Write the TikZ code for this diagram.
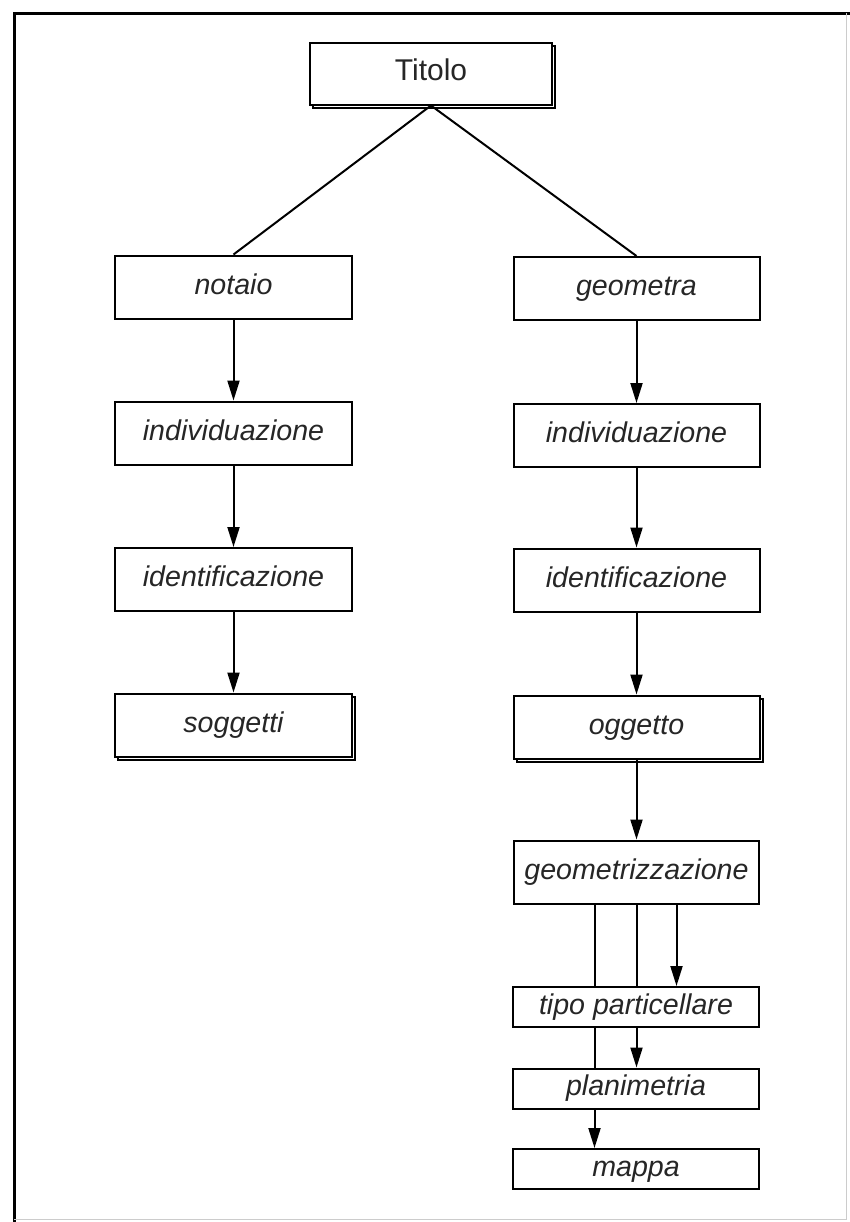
\documentclass[tikz,border=0pt]{standalone}
\usepackage{fontspec}
\setmainfont{Liberation Sans}
\usetikzlibrary{arrows.meta,shadows}

\begin{document}
\begin{tikzpicture}[x=0.5pt,y=-0.5pt,
	box/.style={draw,fill=white,line width=1pt,inner sep=0pt,text=black!85,
		text height=10.3pt,text depth=3pt,
		font={\fontsize{14.3}{16}\selectfont\itshape}},
	bigbox/.style={box,minimum height=31.5pt},
	smallbox/.style={box,minimum width=123pt,minimum height=20pt},
	shadowed/.style={copy shadow={shadow xshift=1.5pt,shadow yshift=-1.5pt}},
	arr/.style={-{Triangle[length=10pt,width=6pt]},line width=1pt},
	link/.style={line width=1pt}]
\useasboundingbox (0,0) rectangle (850,1222);
% frame
\draw [line width=1.5pt] (14,1222) -- (14,13) -- (850,13);
\draw [black!20] (846,13) -- (846,1219) -- (14,1219);
% title
\node [box,shadowed,minimum width=121pt,minimum height=31pt,
	font={\fontsize{15}{18}\selectfont}] (titolo) at (431,73.5) {Titolo};
% left column
\node [bigbox,minimum width=118.5pt] (notaio) at (233.5,287) {notaio};
\node [bigbox,minimum width=118.5pt] (indL) at (233.5,433) {individuazione};
\node [bigbox,minimum width=118.5pt] (identL) at (233.5,579.5) {identificazione};
\node [bigbox,shadowed,minimum width=118.5pt] (soggetti) at (233.5,725) {soggetti};
% right column
\node [bigbox,minimum width=123pt] (geometra) at (636.5,288.5) {geometra};
\node [bigbox,minimum width=123pt] (indR) at (636.5,435.5) {individuazione};
\node [bigbox,minimum width=123pt] (identR) at (636.5,580) {identificazione};
\node [bigbox,shadowed,minimum width=123pt] (oggetto) at (636.5,727) {oggetto};
\node [bigbox,minimum width=122.5pt] (geomz) at (636.5,872) {geometrizzazione};
\node [smallbox] (tipo) at (636,1007) {tipo particellare};
\node [smallbox] (plan) at (636,1088.5) {planimetria};
\node [smallbox] (mappa) at (636,1169) {mappa};
% connectors
\draw [link] (titolo.south) -- (notaio.north);
\draw [link] (titolo.south) -- (geometra.north);
\draw [arr] (notaio) -- (indL);
\draw [arr] (indL) -- (identL);
\draw [arr] (identL) -- (soggetti);
\draw [arr] (geometra) -- (indR);
\draw [arr] (indR) -- (identR);
\draw [arr] (identR) -- (oggetto);
\draw [arr] (oggetto.south) -- (geomz.north);
\draw [arr] ([xshift=20pt]geomz.south) -- ([xshift=20.25pt]tipo.north);
\draw [link] (geomz.south) -- ([xshift=0.25pt]tipo.north);
\draw [arr] ([xshift=0.25pt]tipo.south) -- ([xshift=0.25pt]plan.north);
\draw [link] ([xshift=-21pt]geomz.south) -- ([xshift=-20.75pt]tipo.north);
\draw [link] ([xshift=-20.75pt]tipo.south) -- ([xshift=-20.75pt]plan.north);
\draw [arr] ([xshift=-20.75pt]plan.south) -- ([xshift=-20.75pt]mappa.north);
\end{tikzpicture}
\end{document}
